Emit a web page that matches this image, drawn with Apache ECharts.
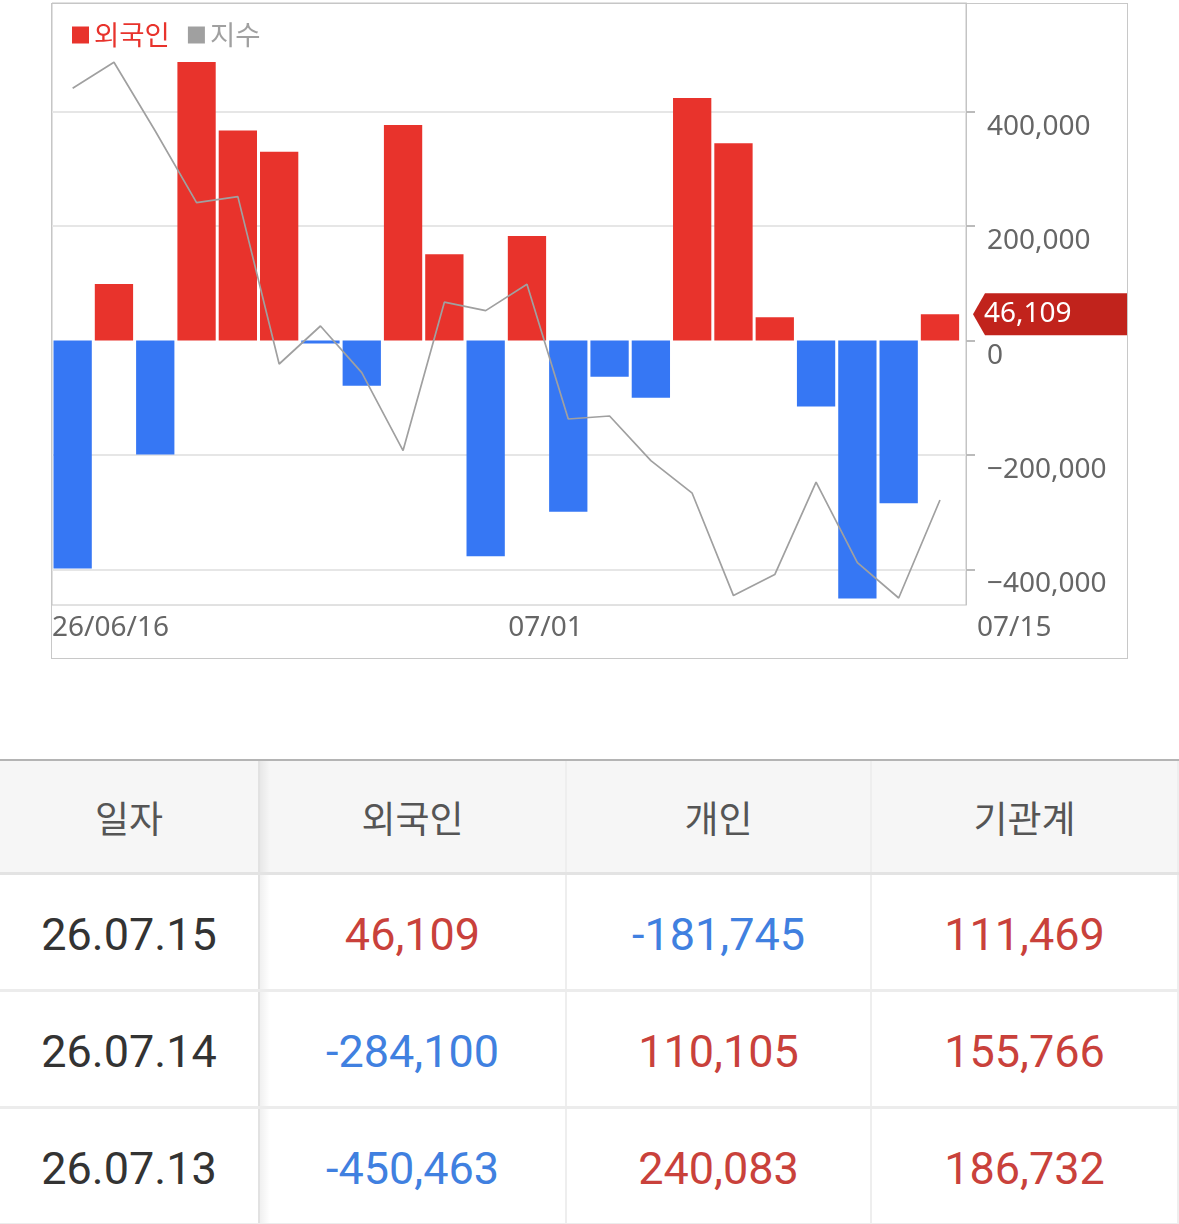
<!DOCTYPE html>
<html><head><meta charset="utf-8">
<script src="https://cdn.jsdelivr.net/npm/echarts@6/dist/echarts.min.js"></script>
<style>
html,body{margin:0;padding:0;background:#fff;width:1179px;height:1224px;overflow:hidden;}
#box{position:absolute;left:51px;top:3px;width:1077px;height:656px;box-sizing:border-box;border:1px solid #c8c8c8;}
#chart{position:absolute;left:0;top:0;width:1179px;height:680px;}
#table{position:absolute;left:0;top:759px;width:1179px;border-top:2px solid #b4b4b4;}
.row{display:flex;box-sizing:border-box;}
.cell{display:flex;align-items:center;justify-content:center;box-sizing:border-box;border-right:2px solid #eeeeee;}
.hdr{height:114px;background:#f6f6f6;border-bottom:3px solid #e3e3e3;}
.hdr .cell{font-family:"Noto Sans CJK KR","Noto Sans",sans-serif;font-size:37px;color:#555;}
.body{height:117px;border-bottom:3px solid #ececec;}
.body .cell{font-family:Roboto,"Noto Sans",sans-serif;font-size:45px;color:#333;padding-top:4px;}
.c0{width:260px;border-right:2px solid #e2e2e2 !important;}
.c1{width:307px;background-image:linear-gradient(to right,rgba(0,0,0,0.06),rgba(0,0,0,0) 10px);}
.c2{width:305px;}
.c3{width:307px;}
</style>
</head><body>
<div id="box"></div>
<div id="chart"></div>
<div id="table"></div>
<script>
// ---- chart data ----
const dates = ['26/06/16','26/06/17','26/06/18','26/06/19','26/06/22','26/06/23','26/06/24','26/06/25','26/06/26','26/06/29','26/06/30',
               '26/07/01','26/07/02','26/07/03','26/07/06','26/07/07','26/07/08','26/07/09','26/07/10','26/07/13','26/07/14','26/07/15'];
const foreign = [-398000, 99000, -199000, 487000, 367000, 330000, -5000, -79000, 377000, 151000, -377000,
                 183000, -299000, -63000, -100000, 424000, 345000, 41000, -115000, -450463, -284100, 46109];
const indexValues = [2958.4, 2971.4, 2937.0, 2901.2, 2904.2, 2820.5, 2839.5, 2816.2, 2777.2, 2851.4, 2847.2,
                     2860.4, 2793.0, 2794.5, 2772.2, 2755.9, 2704.7, 2715.2, 2761.4, 2721.2, 2703.5, 2752.5];
const yTicks = [-400000, -200000, 0, 200000, 400000];
const xLabelDates = ['26/06/16', '26/07/01', '26/07/15'];
const legendNames = ['외국인', '지수'];

// ---- table data ----
const tableHeaders = ['일자', '외국인', '개인', '기관계'];
const tableDates = ['26.07.15', '26.07.14', '26.07.13'];
const tableForeign = [46109, -284100, -450463];
const tableIndividual = [-181745, 110105, 240083];
const tableInstitution = [111469, 155766, 186732];

const RED = '#e8332c', BLUE = '#3677f4', GRAY = '#a0a0a0', TAG = '#c1231c';

const chart = echarts.init(document.getElementById('chart'), null, {renderer: 'canvas'});
const fmtY = v => (v < 0 ? '\u2212' : '') + Math.abs(v).toLocaleString('en-US');

// x positions: each trading day i sits at value i; the axis runs from the left edge of the first day
const xMin = -0.5, xMax = dates.length - 0.37;
const xLabelPos = xLabelDates.map((d, k) => k === xLabelDates.length - 1 ? xMax : dates.indexOf(d) - 0.5);
const labelFor = v => {
  let k = xLabelPos.findIndex(p => Math.abs(p - v) < 1e-6);
  if (k < 0) return '';
  const s = xLabelDates[k];
  if (k === 0) return s;
  if (k === xLabelDates.length - 1) return '{e|' + s.slice(3) + '}';
  return '{m|' + s.slice(3) + '}';
};

chart.setOption({
  animation: false,
  grid: {left: 52, right: 213, top: 3, bottom: 75, show: true, borderColor: '#c4c4c4', borderWidth: 1, containLabel: false},
  legend: {
    left: 72, top: 20, padding: 0, icon: 'rect', itemWidth: 17, itemHeight: 17, itemGap: 18,
    textStyle: {fontFamily: '"Noto Sans CJK KR","Noto Sans",sans-serif', fontSize: 27.5, lineHeight: 30},
    data: [
      {name: legendNames[0], itemStyle: {color: RED}, textStyle: {color: RED}},
      {name: legendNames[1], itemStyle: {color: GRAY}, textStyle: {color: GRAY}}
    ]
  },
  xAxis: [
    {type: 'value', min: xMin, max: xMax, position: 'bottom',
     axisLine: {show: false, onZero: false}, axisTick: {show: false}, splitLine: {show: false},
     axisLabel: {
       customValues: xLabelPos, showMinLabel: true, showMaxLabel: true,
       align: 'left', verticalAlign: 'top', margin: 8, fontSize: 28, lineHeight: 30, color: '#666',
       fontFamily: '"Noto Sans",sans-serif',
       formatter: labelFor,
       rich: {
         e: {fontSize: 28, lineHeight: 30, color: '#666', fontFamily: '"Noto Sans",sans-serif', padding: [0, 0, 0, 11]},
         m: {fontSize: 28, lineHeight: 30, color: '#666', fontFamily: '"Noto Sans",sans-serif', padding: [0, 0, 0, 2]}
       }
     }}
  ],
  yAxis: [
    {type: 'value', position: 'right', min: -462000, max: 590000,
     axisLine: {show: true, onZero: false, lineStyle: {color: '#c4c4c4', width: 1}},
     axisTick: {show: true, length: 9, lineStyle: {color: '#bbbbbb', width: 2}, customValues: yTicks},
     axisLabel: {customValues: yTicks, formatter: fmtY, margin: 21, fontSize: 28, lineHeight: 30, verticalAlign: 'top',
                 color: '#666', fontFamily: '"Noto Sans",sans-serif'},
     splitLine: {show: true, lineStyle: {color: ['#e6e6e6', '#e6e6e6', 'rgba(0,0,0,0)', '#e6e6e6', '#e6e6e6'], width: 2}}},
    {type: 'value', position: 'left', min: 2700, max: 3001, show: false,
     axisLine: {show: false, onZero: false}, axisTick: {show: false}, axisLabel: {show: false}, splitLine: {show: false}}
  ],
  series: [
    {name: legendNames[0], type: 'bar', xAxisIndex: 0, yAxisIndex: 0, barWidth: 38.3,
     itemStyle: {color: RED},
     data: foreign.map((v, i) => ({value: [i, v], itemStyle: {color: v >= 0 ? RED : BLUE}}))},
    {name: legendNames[1], type: 'line', xAxisIndex: 0, yAxisIndex: 1, data: indexValues.map((v, i) => [i, v]),
     symbol: 'none', smooth: false, z: 5, lineStyle: {color: GRAY, width: 1.7}, itemStyle: {color: GRAY}}
  ]
});

// tag for last value
const lastVal = foreign[foreign.length - 1];
const py = chart.convertToPixel({yAxisIndex: 0}, lastVal);
const gx = chart.convertToPixel({xAxisIndex: 0}, xMax);
chart.setOption({
  graphic: [
    {type: 'polygon', z: 100, shape: {points: [[gx + 7, py], [gx + 19, py - 21], [gx + 161, py - 21], [gx + 161, py + 21], [gx + 19, py + 21]]},
     style: {fill: TAG}},
    {type: 'text', z: 101, x: gx + 18, y: py,
     style: {text: lastVal.toLocaleString('en-US'), fill: '#fff', font: '28px "Noto Sans", sans-serif', verticalAlign: 'middle', align: 'left'}}
  ]
});

// ---- table ----
const fmtN = v => (v < 0 ? '-' : '') + Math.abs(v).toLocaleString('en-US');
const col = v => v > 0 ? '#c9413b' : (v < 0 ? '#4080e0' : '#333');
let html = '<div class="row hdr">' + tableHeaders.map((h, i) => '<div class="cell c' + i + '">' + h + '</div>').join('') + '</div>';
tableDates.forEach((d, r) => {
  const vals = [tableForeign[r], tableIndividual[r], tableInstitution[r]];
  html += '<div class="row body"><div class="cell c0">' + d + '</div>' +
    vals.map((v, i) => '<div class="cell c' + (i + 1) + '" style="color:' + col(v) + '">' + fmtN(v) + '</div>').join('') + '</div>';
});
document.getElementById('table').innerHTML = html;
</script>
</body></html>
